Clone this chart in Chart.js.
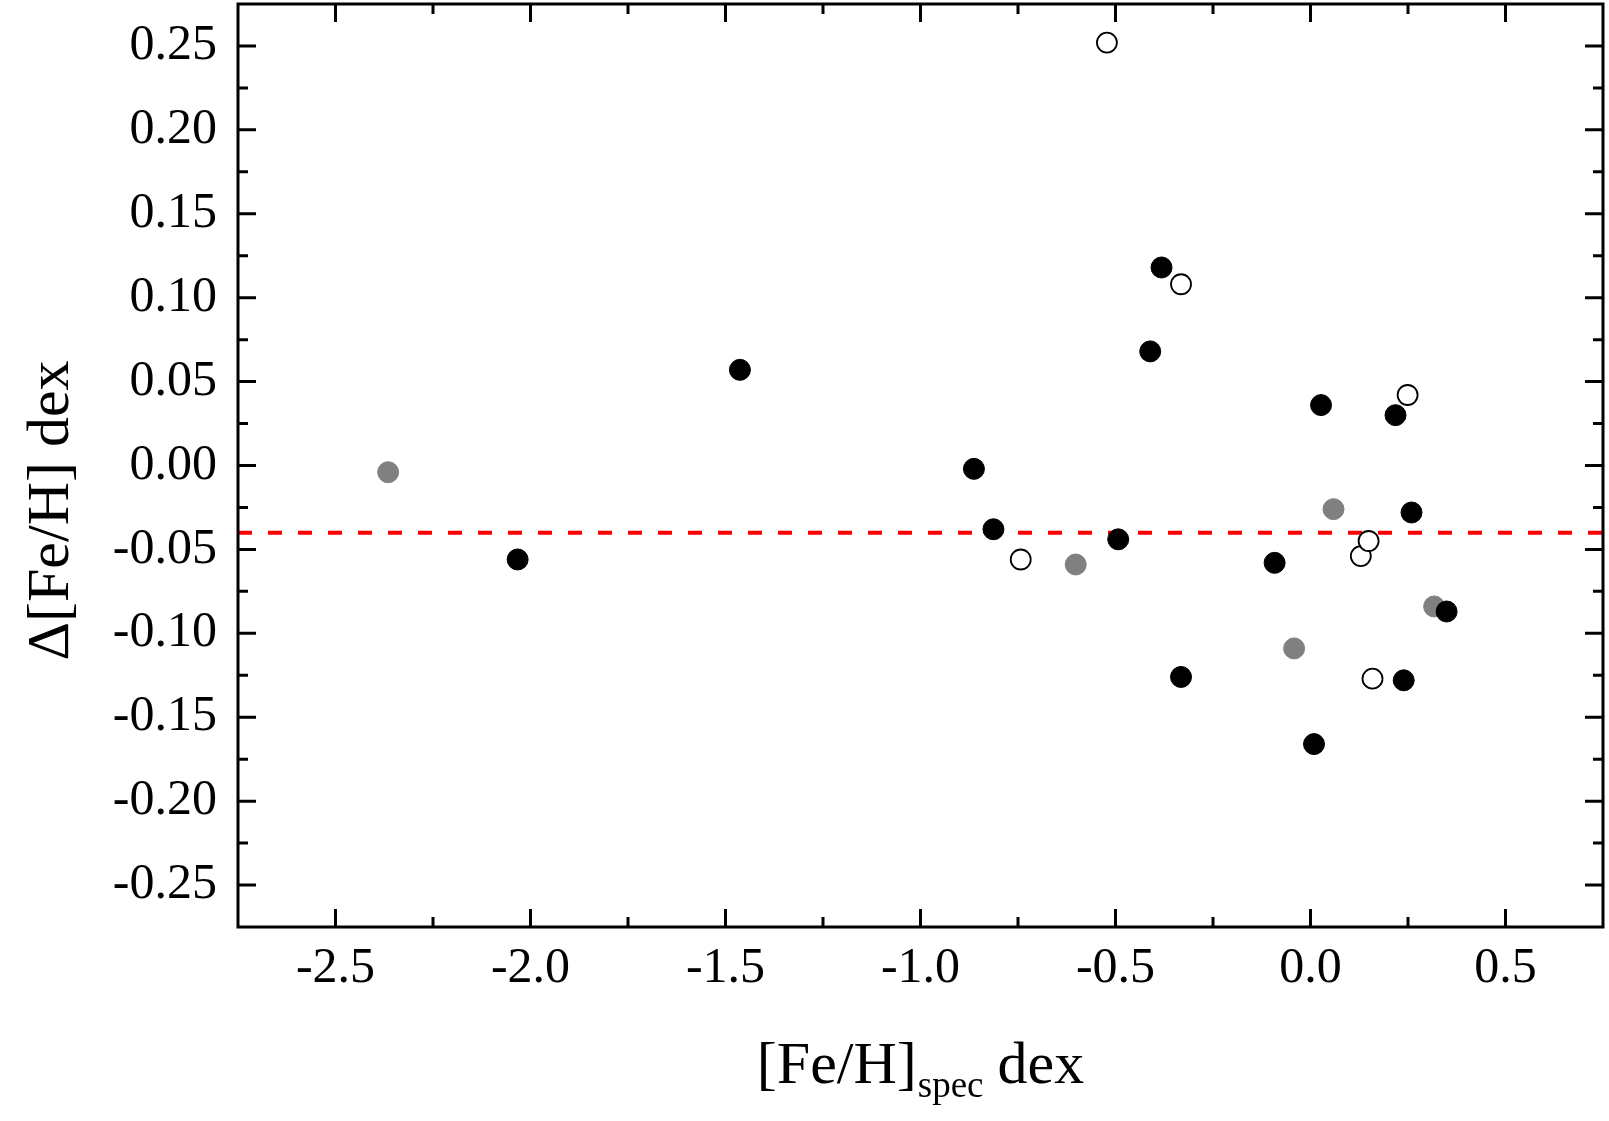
<!DOCTYPE html>
<html>
<head>
<meta charset="utf-8">
<script src="https://cdn.jsdelivr.net/npm/chart.js@4"></script>
<style>
    body { margin: 0; background: #fff; }
</style>
</head>
<body>
<canvas id="myChart" width="1609" height="1121"></canvas>
<script>
// data
const blackX = [-2.033, -1.463, -0.863, -0.813, -0.493, -0.411, -0.382, -0.332, -0.092, 0.009, 0.027, 0.218, 0.239, 0.259, 0.349];
const blackY = [-0.056, 0.057, -0.002, -0.038, -0.044, 0.068, 0.118, -0.126, -0.058, -0.166, 0.036, 0.030, -0.128, -0.028, -0.087];

const grayX = [-2.365, -0.602, -0.042, 0.059, 0.317];
const grayY = [-0.004, -0.059, -0.109, -0.026, -0.084];

const openX = [-0.743, -0.522, -0.332, 0.129, 0.149, 0.159, 0.249];
const openY = [-0.056, 0.252, 0.108, -0.054, -0.045, -0.127, 0.042];

const meanOffset = -0.04;

const xRange = [-2.75, 0.75];
const yRange = [-0.275, 0.275];
const xMajor = [-2.5, -2.0, -1.5, -1.0, -0.5, 0.0, 0.5];
const xMinor = [-2.25, -1.75, -1.25, -0.75, -0.25, 0.25];
const yMajor = [-0.25, -0.20, -0.15, -0.10, -0.05, 0.00, 0.05, 0.10, 0.15, 0.20, 0.25];
const yMinor = [-0.225, -0.175, -0.125, -0.075, -0.025, 0.025, 0.075, 0.125, 0.175, 0.225];

const serif = '"Liberation Serif", "Times New Roman", serif';

function pts(xs, ys) {
    return xs.map((x, i) => ({ x: x, y: ys[i] }));
}

// box around the plot with inward ticks on all four sides
const frameTicks = {
    id: 'frameTicks',
    afterDraw(chart) {
        const c = chart.ctx;
        const a = chart.chartArea;
        const xs = chart.scales.x;
        const ys = chart.scales.y;
        c.save();
        c.strokeStyle = '#000';
        c.lineWidth = 3;
        c.beginPath();
        const xt = (v, len) => {
            const p = xs.getPixelForValue(v);
            c.moveTo(p, a.bottom); c.lineTo(p, a.bottom - len);
            c.moveTo(p, a.top); c.lineTo(p, a.top + len);
        };
        const yt = (v, len) => {
            const p = ys.getPixelForValue(v);
            c.moveTo(a.left, p); c.lineTo(a.left + len, p);
            c.moveTo(a.right, p); c.lineTo(a.right - len, p);
        };
        xMajor.forEach(v => xt(v, 18));
        xMinor.forEach(v => xt(v, 10));
        yMajor.forEach(v => yt(v, 18));
        yMinor.forEach(v => yt(v, 10));
        c.stroke();
        c.strokeRect(a.left, a.top, a.right - a.left, a.bottom - a.top);
        c.restore();
    }
};

// axis titles (x title needs a subscript)
const axisTitles = {
    id: 'axisTitles',
    afterDraw(chart) {
        const c = chart.ctx;
        const a = chart.chartArea;
        c.save();
        c.fillStyle = '#000';
        c.textBaseline = 'alphabetic';

        const big = '60px ' + serif;
        const small = '37px ' + serif;
        c.font = big;
        const w1 = c.measureText('[Fe/H]').width;
        const w3 = c.measureText(' dex').width;
        c.font = small;
        const w2 = c.measureText('spec').width;
        let x = (a.left + a.right) / 2 - (w1 + w2 + w3) / 2;
        const base = a.bottom + 156;
        c.textAlign = 'left';
        c.font = big;
        c.fillText('[Fe/H]', x, base);
        x += w1;
        c.font = small;
        c.fillText('spec', x + 1, base + 14);
        x += w2;
        c.font = big;
        c.fillText(' dex', x, base);

        c.translate(68, (a.top + a.bottom) / 2 + 45);
        c.rotate(-Math.PI / 2);
        c.textAlign = 'center';
        c.fillText('\u0394[Fe/H] dex', 0, 0);
        c.restore();
    }
};

const ctx = document.getElementById('myChart');

const myChart = new Chart(ctx, {
    type: 'scatter',
    data: {
        datasets: [{
            label: 'black',
            data: pts(blackX, blackY),
            backgroundColor: '#000',
            borderColor: '#000',
            borderWidth: 1,
            pointRadius: 10.5
        }, {
            label: 'gray',
            data: pts(grayX, grayY),
            backgroundColor: '#808080',
            borderColor: '#808080',
            borderWidth: 1,
            pointRadius: 10.5
        }, {
            label: 'open',
            data: pts(openX, openY),
            backgroundColor: '#fff',
            borderColor: '#000',
            borderWidth: 1.8,
            pointRadius: 10
        }, {
            label: 'mean',
            data: [{ x: xRange[0], y: meanOffset }, { x: xRange[1], y: meanOffset }],
            showLine: true,
            borderColor: '#ff0000',
            borderWidth: 4,
            borderDash: [14, 16],
            pointRadius: 0
        }]
    },
    options: {
        responsive: false,
        animation: false,
        layout: {
            autoPadding: false,
            padding: { top: 4, right: 6, left: 0, bottom: 0 }
        },
        scales: {
            x: {
                type: 'linear',
                min: xRange[0],
                max: xRange[1],
                afterBuildTicks: function (scale) {
                    scale.ticks = xMajor.map(v => ({ value: v }));
                },
                afterFit: function (scale) {
                    scale.height = 194;
                    scale.paddingLeft = 0;
                    scale.paddingRight = 0;
                },
                grid: { display: false, drawTicks: false },
                border: { display: false },
                ticks: {
                    padding: 12,
                    color: '#000',
                    font: { family: serif, size: 50 },
                    callback: v => v.toFixed(1)
                }
            },
            y: {
                type: 'linear',
                min: yRange[0],
                max: yRange[1],
                afterBuildTicks: function (scale) {
                    scale.ticks = yMajor.map(v => ({ value: v }));
                },
                afterFit: function (scale) {
                    scale.width = 238;
                    scale.paddingTop = 0;
                    scale.paddingBottom = 0;
                },
                grid: { display: false, drawTicks: false },
                border: { display: false },
                ticks: {
                    padding: 21,
                    color: '#000',
                    font: { family: serif, size: 50 },
                    callback: v => v.toFixed(2)
                }
            }
        },
        plugins: {
            legend: { display: false },
            tooltip: { enabled: false }
        }
    },
    plugins: [frameTicks, axisTitles]
});
</script>
</body>
</html>
